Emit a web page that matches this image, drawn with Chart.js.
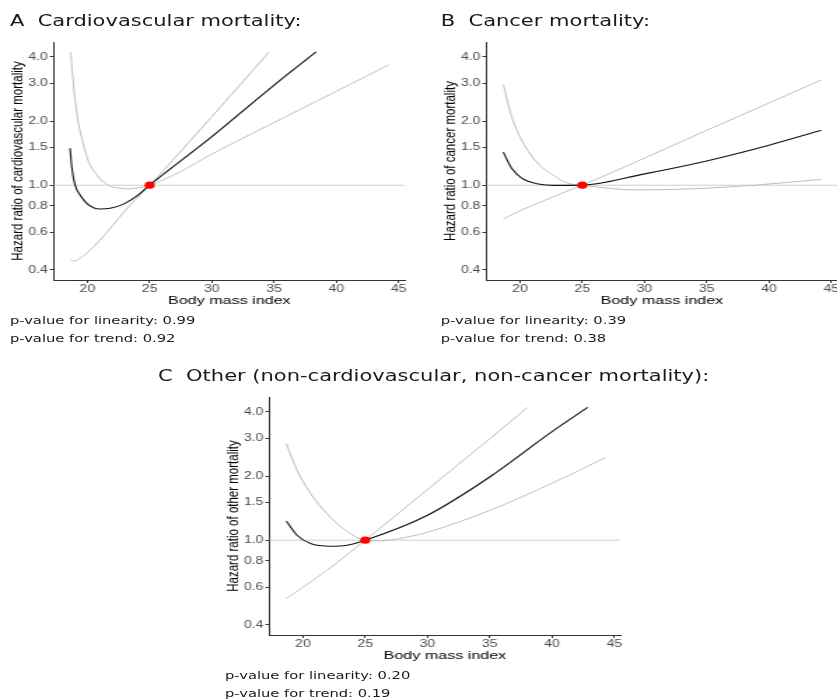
<!DOCTYPE html>
<html>
<head>
<meta charset="utf-8">
<script src="https://cdn.jsdelivr.net/npm/chart.js@4/dist/chart.umd.min.js"></script>
<style>
  html, body { margin: 0; padding: 0; background: #fff; overflow: hidden; width: 837px; height: 700px; }
  #stage { position: absolute; left: 0; top: 0; width: 640px; height: 700px; transform: scaleX(1.4); transform-origin: 0 0; }
  .panel { position: absolute; }
  .txt { position: absolute; white-space: pre; font-family: "DejaVu Sans", sans-serif; color: #1a1a1a; }
  .title { font-size: 15px; line-height: 15px; }
  .note { font-size: 10.5px; line-height: 10.5px; }
</style>
</head>
<body>
<div id="stage">
  <div class="txt title" style="left:7.1px; top:14px;">A  Cardiovascular mortality:</div>
  <div class="txt title" style="left:314.8px; top:14px;">B  Cancer mortality:</div>
  <div class="txt title" style="left:112.9px; top:369px;">C  Other (non-cardiovascular, non-cancer mortality):</div>

  <canvas id="panelA" class="panel" width="301" height="280" style="left:0px; top:32px; width:301px; height:280px;"></canvas>
  <canvas id="panelB" class="panel" width="301" height="280" style="left:308.5px; top:32px; width:301px; height:280px;"></canvas>
  <canvas id="panelC" class="panel" width="301" height="280" style="left:154.3px; top:386.7px; width:301px; height:280px;"></canvas>

  <div class="txt note" style="left:7.1px; top:315.1px;">p-value for linearity: 0.99</div>
  <div class="txt note" style="left:7.1px; top:332.8px;">p-value for trend: 0.92</div>
  <div class="txt note" style="left:314.8px; top:315.1px;">p-value for linearity: 0.39</div>
  <div class="txt note" style="left:314.8px; top:332.8px;">p-value for trend: 0.38</div>
  <div class="txt note" style="left:160.7px; top:670.4px;">p-value for linearity: 0.20</div>
  <div class="txt note" style="left:160.7px; top:687.8px;">p-value for trend: 0.19</div>
</div>

<script>
// Axis ticks shared by all three panels
const bmiTicks = [20, 25, 30, 35, 40, 45];
const hrTicks = [0.4, 0.6, 0.8, 1.0, 1.5, 2.0, 3.0, 4.0];

// Reference category (hazard ratio 1 at BMI 25)
const refBmi = 25;
const refHr = 1.0;

// A: cardiovascular mortality — spline fit and the two confidence limits
const cvdBmiFit   = [18.61, 18.74, 19.01, 19.41, 19.95, 20.49, 21.02, 21.83, 22.9, 23.98, 25, 30, 35, 38.37];
const cvdHrFit    = [1.49, 1.22, 1.0, 0.90, 0.822, 0.784, 0.773, 0.779, 0.815, 0.89, 1.0, 1.69, 2.95, 4.22];
const cvdBmiBand1 = [18.66, 18.88, 19.5, 20.5, 21.5, 22.5, 23.5, 25, 30, 34.56];
const cvdHrBand1  = [0.449, 0.44, 0.458, 0.514, 0.595, 0.698, 0.815, 1.0, 2.10, 4.2];
const cvdBmiBand2 = [18.66, 18.87, 19.25, 19.75, 20.1, 20.8, 21.65, 22.5, 23.3, 24.2, 25, 27.5, 30, 35, 40, 44.21];
const cvdHrBand2  = [4.2, 3.0, 2.0, 1.5, 1.29, 1.11, 1.0, 0.97, 0.96, 0.975, 1.0, 1.16, 1.40, 1.97, 2.76, 3.67];

// B: cancer mortality
const canBmiFit   = [18.66, 19.33, 20.13, 21.47, 22.8, 25, 30, 35, 40, 44.2];
const canHrFit    = [1.43, 1.2, 1.08, 1.013, 0.998, 1.0, 1.13, 1.30, 1.54, 1.81];
const canBmiBand1 = [18.66, 19.33, 20.13, 21.2, 22.8, 23.88, 25, 27.1, 29.5, 33.5, 36.2, 38.85, 44.2];
const canHrBand1  = [2.97, 2.10, 1.63, 1.31, 1.10, 1.02, 1.0, 0.967, 0.95, 0.96, 0.977, 1.0, 1.065];
const canBmiBand2 = [18.66, 20.13, 21.74, 23.34, 25, 30, 35, 40, 44.2];
const canHrBand2  = [0.694, 0.765, 0.837, 0.916, 1.0, 1.34, 1.81, 2.43, 3.12];

// C: other (non-cardiovascular, non-cancer) mortality
const othBmiFit   = [18.66, 19.52, 20.6, 22.2, 23.54, 25, 30, 35, 40, 42.87];
const othHrFit    = [1.23, 1.055, 0.965, 0.937, 0.947, 1.0, 1.31, 1.98, 3.23, 4.2];
const othBmiBand1 = [18.66, 19.52, 20.6, 21.93, 23.27, 25, 26.2, 27.84, 30, 35, 40, 44.29];
const othHrBand1  = [2.84, 2.13, 1.66, 1.33, 1.13, 1.0, 0.993, 1.02, 1.09, 1.38, 1.85, 2.44];
const othBmiBand2 = [18.66, 21.93, 25, 30, 35, 38.04];
const othHrBand2  = [0.532, 0.723, 1.0, 1.73, 2.99, 4.2];

// Axis limits (with the usual 5% expansion around the data)
const bmiMin = 17.32, bmiMax = 45.48;
const hrMin = 0.359, hrMax = 4.70;

const toPoints = (xs, ys) => xs.map((x, i) => ({ x: x, y: ys[i] }));

// Horizontal reference line at HR = 1 across the plotting area
const refLinePlugin = {
  id: 'refLine',
  beforeDatasetsDraw(chart) {
    const { ctx, chartArea, scales } = chart;
    const y = scales.y.getPixelForValue(refHr);
    ctx.save();
    ctx.strokeStyle = '#cfcfcf';
    ctx.lineWidth = 1;
    ctx.beginPath();
    ctx.moveTo(chartArea.left, y);
    ctx.lineTo(chartArea.right, y);
    ctx.stroke();
    ctx.restore();
  }
};

function curve(xs, ys, color, width) {
  return {
    type: 'line',
    data: toPoints(xs, ys),
    borderColor: color,
    borderWidth: width,
    pointRadius: 0,
    fill: false,
    cubicInterpolationMode: 'monotone'
  };
}

const tickFont = { family: 'Liberation Sans', size: 10 };
const titleFont = { family: 'Liberation Sans', size: 11.5 };

function makePanel(id, fit, band1, band2, yTitle) {
  new Chart(document.getElementById(id), {
    type: 'line',
    data: {
      datasets: [
        {
          type: 'scatter',
          data: [{ x: refBmi, y: refHr }],
          backgroundColor: '#ff0000',
          borderWidth: 0,
          pointRadius: 3.6
        },
        curve(fit[0], fit[1], '#111111', 1.1),
        curve(band1[0], band1[1], '#bdbdbd', 1),
        curve(band2[0], band2[1], '#bdbdbd', 1)
      ]
    },
    options: {
      responsive: false,
      animation: false,
      events: [],
      layout: { padding: { left: 0, right: 12, top: 10, bottom: 0 } },
      plugins: { legend: { display: false }, tooltip: { enabled: false } },
      scales: {
        x: {
          type: 'linear',
          min: bmiMin,
          max: bmiMax,
          bounds: 'data',
          afterBuildTicks: s => { s.ticks = bmiTicks.map(v => ({ value: v })); },
          afterFit: s => { s.height = 32; },
          ticks: {
            callback: v => String(v),
            color: '#4d4d4d',
            font: tickFont,
            padding: 0,
            maxRotation: 0
          },
          grid: { drawOnChartArea: false, drawTicks: true, tickLength: 3, color: '#333333', lineWidth: 1 },
          border: { display: true, color: '#333333', width: 1 },
          title: {
            display: true,
            text: 'Body mass index',
            color: '#000000',
            font: titleFont,
            padding: { top: 0, bottom: 4.6 }
          }
        },
        y: {
          type: 'logarithmic',
          min: hrMin,
          max: hrMax,
          bounds: 'data',
          afterBuildTicks: s => { s.ticks = hrTicks.map(v => ({ value: v })); },
          afterFit: s => { s.width = 38.6; },
          ticks: {
            callback: v => Number(v).toFixed(1),
            color: '#4d4d4d',
            font: tickFont,
            padding: 1.5
          },
          grid: { drawOnChartArea: false, drawTicks: true, tickLength: 3, color: '#333333', lineWidth: 1 },
          border: { display: true, color: '#333333', width: 1 },
          title: {
            display: true,
            text: yTitle,
            color: '#000000',
            font: titleFont,
            padding: { top: 5.7, bottom: 0 }
          }
        }
      }
    },
    plugins: [refLinePlugin]
  });
}

makePanel('panelA', [cvdBmiFit, cvdHrFit], [cvdBmiBand1, cvdHrBand1], [cvdBmiBand2, cvdHrBand2],
  'Hazard ratio of cardiovascular mortality');
makePanel('panelB', [canBmiFit, canHrFit], [canBmiBand1, canHrBand1], [canBmiBand2, canHrBand2],
  'Hazard ratio of cancer mortality');
makePanel('panelC', [othBmiFit, othHrFit], [othBmiBand1, othHrBand1], [othBmiBand2, othHrBand2],
  'Hazard ratio of other mortality');
</script>
</body>
</html>
